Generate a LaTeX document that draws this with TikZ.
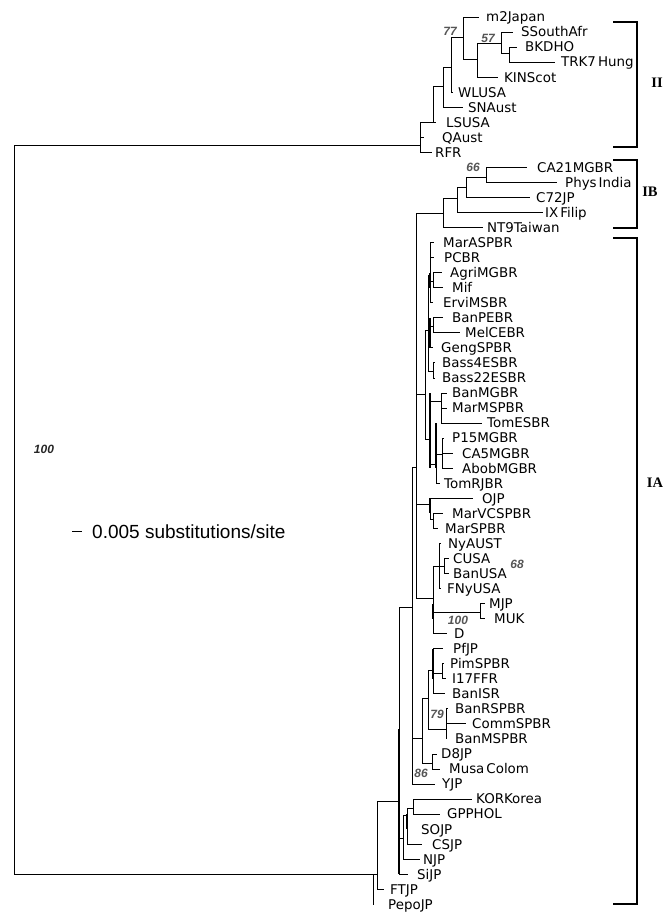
\documentclass[tikz,border=0pt]{standalone}
\usepackage{fontspec}
\setmainfont{Liberation Serif}
\newfontfamily\leaffam{DejaVu Sans}
\newfontfamily\arialfam{Liberation Sans}
\newfontfamily\romfam{Liberation Serif}
\definecolor{bootgray}{HTML}{555555}
\tikzset{
  br/.style={line width=0.9pt},
  thk/.style={line width=2pt},
  brk/.style={line width=1.2pt},
  leaf/.style={anchor=west, inner sep=0pt, font=\leaffam\fontsize{13.4}{13.4}\selectfont, text height=9.7pt, text depth=0pt},
  boot/.style={inner sep=0pt, font=\arialfam\bfseries\itshape\fontsize{12}{12}\selectfont, text=bootgray},
  grp/.style={inner sep=0pt, font=\romfam\bfseries\fontsize{14.5}{14.5}\selectfont},
  scaletxt/.style={anchor=west, inner sep=0pt, font=\arialfam\fontsize{19}{19}\selectfont, text height=13.5pt, text depth=0pt}
}
\newcommand{\ns}{\hspace{2pt}}
\newcommand{\mynode}[4]{\coordinate (#1) at (#3,#4); \draw[br] (#2) |- (#1);}
\newcommand{\myleaf}[6]{\coordinate (#1t) at (#3,{17+15.04*(#5-1)}); \node[leaf] (#1) at (#4,{17+15.04*(#5-1)}) {#6}; \draw[br] (#2) |- (#1t);}
\begin{document}
\begin{tikzpicture}[x=1pt,y=-1pt]
\useasboundingbox (0,0) rectangle (672,914);
\fill[white] (0,0) rectangle (672,914);
\coordinate (root) at (14,510);
% ---- clade II
\mynode{n1}{root}{420}{145}
\mynode{n2}{n1}{433}{122}
\mynode{n3}{n2}{443}{86}
\mynode{n4}{n3}{451}{67}
\mynode{n5}{n4}{463}{37}
\mynode{n6}{n5}{477}{59}
\mynode{n7}{n6}{501}{43}
\mynode{n8}{n7}{509}{53}
\myleaf{m2Japan}{n5}{479}{486}{1}{m2Japan}
\myleaf{SSouth}{n7}{513}{521}{2}{SSouthAfr}
\myleaf{BKDHO}{n8}{517}{525}{3}{BKDHO}
\myleaf{TRK}{n8}{555}{561}{4}{TRK7\ns Hung}
\myleaf{KIN}{n6}{498}{504}{5}{KINScot}
\myleaf{WLUSA}{n4}{453}{458}{6}{WLUSA}
\myleaf{SNAust}{n3}{463}{468}{7}{SNAust}
\myleaf{LSUSA}{n2}{436}{446}{8}{LSUSA}
\myleaf{QAust}{n1}{424}{442}{9}{QAust}
\myleaf{RFR}{n1}{432}{435}{10}{RFR}
% ---- lower part
\mynode{A}{root}{373}{874}
\mynode{B}{A}{377}{874}
\mynode{C}{B}{399}{801}
\mynode{E}{C}{412}{607}
\mynode{P1}{E}{416}{467}
% IB
\mynode{IBn}{P1}{443}{213}
\mynode{m1}{IBn}{457}{198}
\mynode{m2}{m1}{466}{187}
\mynode{m3}{m2}{486}{177}
\myleaf{CA21}{m3}{527}{537}{11}{CA21MGBR}
\myleaf{Phys}{m3}{557}{565}{12}{Phys\ns India}
\myleaf{C72}{m2}{530}{536}{13}{C72JP}
\myleaf{IX}{m1}{543}{545}{14}{IX\ns Filip}
\myleaf{NT9}{IBn}{483}{487}{15}{NT9Taiwan}
% IA internal nodes
\mynode{Q1}{P1}{425}{394}
\mynode{Q2}{Q1}{428}{330}
\mynode{G1}{Q2}{430}{275}
\mynode{AM}{G1}{433}{281}
\mynode{G2}{Q2}{430}{339}
\mynode{BP}{G2}{433}{326}
\mynode{Bass}{Q2}{433}{371}
\mynode{Q3}{Q1}{430}{439}
\mynode{BMG}{Q3}{441}{401}
\mynode{G4}{Q3}{436}{464}
\mynode{P15}{G4}{442}{454}
\mynode{G5}{P1}{430}{504}
\mynode{MV}{G5}{433}{519}
\mynode{K}{P1}{433}{598}
\mynode{NyA}{K}{439}{566}
\mynode{CB}{NyA}{444}{566}
\mynode{MM}{K}{480}{612}
\mynode{G}{E}{422}{738}
\mynode{F}{G}{428}{698}
\mynode{J}{F}{433}{670}
\mynode{PI}{J}{442}{673}
\mynode{BRn}{F}{446}{729}
\mynode{DM}{G}{432}{763}
\mynode{N1}{C}{403}{838}
\mynode{N2}{N1}{407}{815}
\mynode{KORn}{N2}{413}{808}
% IA leaves
\myleaf{MarAS}{G1}{434}{443}{16}{MarASPBR}
\myleaf{PCBR}{G1}{434}{444}{17}{PCBR}
\myleaf{Agri}{AM}{442}{450}{18}{AgriMGBR}
\myleaf{Mif}{AM}{443}{452}{19}{Mif}
\myleaf{Ervi}{G1}{433}{443}{20}{ErviMSBR}
\myleaf{BanPE}{BP}{443}{452}{21}{BanPEBR}
\myleaf{MelCE}{BP}{460}{465}{22}{MelCEBR}
\myleaf{Geng}{G2}{433}{441}{23}{GengSPBR}
\myleaf{Bass4}{Bass}{435}{442}{24}{Bass4ESBR}
\myleaf{Bass22}{Bass}{435}{442}{25}{Bass22ESBR}
\myleaf{BanMG}{BMG}{447}{452}{26}{BanMGBR}
\myleaf{MarMS}{BMG}{447}{452}{27}{MarMSPBR}
\myleaf{TomES}{BMG}{482}{487}{28}{TomESBR}
\myleaf{P15MG}{P15}{444}{452}{29}{P15MGBR}
\myleaf{CA5}{P15}{453}{462}{30}{CA5MGBR}
\myleaf{Abob}{P15}{453}{462}{31}{AbobMGBR}
\myleaf{TomRJ}{G4}{440}{444}{32}{TomRJBR}
\myleaf{OJP}{G5}{473}{482}{33}{OJP}
\myleaf{MarVC}{MV}{443}{452}{34}{MarVCSPBR}
\myleaf{MarSP}{MV}{438}{445}{35}{MarSPBR}
\myleaf{NyAUST}{NyA}{441}{448}{36}{NyAUST}
\myleaf{CUSA}{CB}{449}{453}{37}{CUSA}
\myleaf{BanUSA}{CB}{449}{453}{38}{BanUSA}
\myleaf{FNy}{NyA}{441}{447}{39}{FNyUSA}
\myleaf{MJP}{MM}{485}{489}{40}{MJP}
\myleaf{MUK}{MM}{485}{494}{41}{MUK}
\myleaf{Dleaf}{K}{447}{454}{42}{D}
\myleaf{PfJP}{J}{443}{453}{43}{PfJP}
\myleaf{Pim}{PI}{444}{450}{44}{PimSPBR}
\myleaf{I17}{PI}{446}{452}{45}{I17FFR}
\myleaf{BanIS}{J}{445}{452}{46}{BanISR}
\myleaf{BanRS}{BRn}{448}{455}{47}{BanRSPBR}
\myleaf{Comm}{BRn}{466}{472}{48}{CommSPBR}
\myleaf{BanMS}{BRn}{447}{455}{49}{BanMSPBR}
\myleaf{D8}{DM}{437}{441}{50}{D8JP}
\myleaf{Musa}{DM}{440}{449}{51}{Musa\ns Colom}
\myleaf{YJP}{E}{435}{442}{52}{YJP}
\myleaf{KOR}{KORn}{472}{476}{53}{KORKorea}
\myleaf{GPP}{KORn}{440}{447}{54}{GPPHOL}
\myleaf{SOJP}{N2}{408}{421}{55}{SOJP}
\myleaf{CSJP}{N2}{422}{432}{56}{CSJP}
\myleaf{NJP}{N1}{420}{423}{57}{NJP}
\myleaf{SiJP}{C}{408}{417}{58}{SiJP}
\myleaf{FTJP}{B}{384}{390}{59}{FTJP}
\myleaf{Pepo}{A}{374}{388}{60}{PepoJP}
% overlapping short branches drawn as heavier strokes
\draw[thk] (G1 |- Agri) -- (G1 |- Mif);
\draw[thk] (G2 |- BanPE) -- (G2 |- Geng);
\draw[thk] (Q3 |- BanMG) -- (Q3 |- Abob);
\draw[thk] (G4 |- TomES) -- (G4 |- Abob);
\draw[thk] (G5 |- OJP) -- (G5 |- MarVC);
\draw[thk] (K |- MJP) -- (K |- MUK);
\draw[thk] (J |- PfJP) -- (J |- I17);
\draw[thk] (C |- BRn) -- (C |- SiJPt);
\draw[thk] (N2 |- GPP) -- (N2 |- SOJP);
% bootstrap values
\node[boot] (b77) at (450,31) {77};
\node[boot] (b57) at (488,38) {57};
\node[boot] (b66) at (473,167) {66};
\node[boot] (b68) at (517,564) {68};
\node[boot] (b100a) at (458,620) {100};
\node[boot] (b79) at (437,714) {79};
\node[boot] (b86) at (421,773) {86};
\node[boot, text=black!85] (b100r) at (44,449) {100};
% scale bar
\node[scaletxt] (scale) at (92,531.5) {0.005 substitutions/site};
\draw[br] ([xshift=-20pt]scale.west) -- ([xshift=-10pt]scale.west);
% group brackets
\draw[brk] (613,22) -| (637,147) -- (613,147);
\draw[brk] (613,160) -| (637,228) -- (613,228);
\draw[brk] (613,238) -| (637,904) -- (613,904);
\node[grp] (gII) at (657,83) {II};
\node[grp] (gIB) at (650,192) {IB};
\node[grp] (gIA) at (655,483) {IA};
\end{tikzpicture}
\end{document}
